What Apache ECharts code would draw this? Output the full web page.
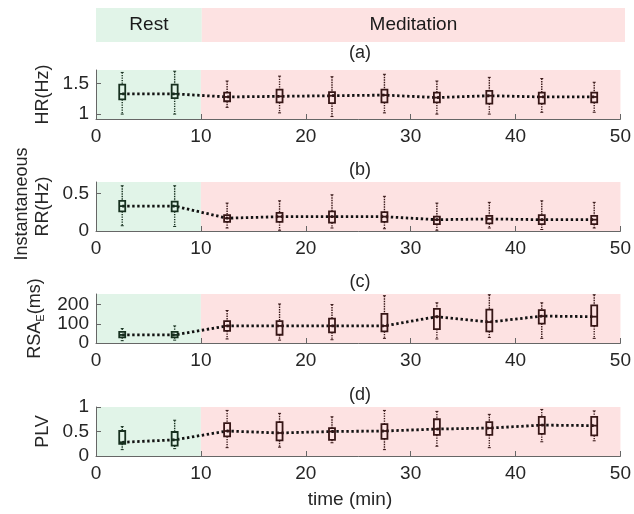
<!DOCTYPE html>
<html><head><meta charset="utf-8">
<script src="https://cdn.jsdelivr.net/npm/echarts@6/dist/echarts.min.js"></script>
<style>html,body{margin:0;padding:0;background:#fff}#c{width:634px;height:514px}</style>
</head><body><div id="c"></div>
<script>
// ---- data ----
const times = [2.5, 7.5, 12.5, 17.5, 22.5, 27.5, 32.5, 37.5, 42.5, 47.5];
const phaseNames = ['Rest', 'Meditation'];
const phaseStart = [0, 10];
const phaseEnd = [10, 50];
const xTicks = [0, 10, 20, 30, 40, 50];
const panelTags = ['(a)', '(b)', '(c)', '(d)'];
const yNames = ['HR(Hz)', 'RR(Hz)', '{n|RSA}{s|E}{n|(ms)}', 'PLV'];
const yTicks = [[1, 1.5], [0, 0.5], [0, 100, 200], [0, 0.5, 1]];
const yRange = [[0.92, 1.72], [0, 0.65], [0, 255], [0, 1]];

const hrMin = [1.00, 1.00, 1.11, 1.02, 0.96, 1.02, 1.00, 1.00, 1.03, 1.03];
const hrQ1  = [1.24, 1.26, 1.21, 1.19, 1.18, 1.19, 1.19, 1.17, 1.17, 1.19];
const hrMed = [1.33, 1.33, 1.28, 1.29, 1.30, 1.31, 1.27, 1.30, 1.28, 1.28];
const hrQ3  = [1.48, 1.48, 1.35, 1.40, 1.36, 1.40, 1.35, 1.38, 1.35, 1.35];
const hrMax = [1.68, 1.70, 1.54, 1.62, 1.61, 1.65, 1.54, 1.60, 1.58, 1.52];

const rrMin = [0.07, 0.06, 0.04, 0.01, 0.04, 0.03, 0.01, 0.04, 0.02, 0.04];
const rrQ1  = [0.26, 0.26, 0.12, 0.12, 0.11, 0.12, 0.09, 0.10, 0.09, 0.09];
const rrMed = [0.33, 0.33, 0.17, 0.19, 0.19, 0.19, 0.15, 0.16, 0.15, 0.15];
const rrQ3  = [0.40, 0.39, 0.21, 0.24, 0.26, 0.25, 0.19, 0.20, 0.21, 0.20];
const rrMax = [0.60, 0.60, 0.37, 0.40, 0.48, 0.46, 0.37, 0.38, 0.40, 0.38];

const rsaMin = [12, 15, 21, 15, 17, 24, 21, 29, 24, 24];
const rsaQ1  = [29, 29, 63, 43, 55, 60, 72, 60, 101, 89];
const rsaMed = [42, 42, 89, 89, 89, 89, 137, 109, 140, 137];
const rsaQ3  = [58, 58, 114, 114, 127, 152, 178, 174, 171, 196];
const rsaMax = [75, 89, 169, 203, 200, 246, 209, 251, 209, 251];

const plvMin = [0.13, 0.15, 0.17, 0.18, 0.27, 0.13, 0.20, 0.17, 0.29, 0.31];
const plvQ1  = [0.25, 0.21, 0.40, 0.32, 0.33, 0.35, 0.43, 0.43, 0.45, 0.42];
const plvMed = [0.28, 0.33, 0.51, 0.47, 0.50, 0.51, 0.55, 0.57, 0.63, 0.62];
const plvQ3  = [0.51, 0.49, 0.67, 0.69, 0.57, 0.65, 0.75, 0.69, 0.80, 0.80];
const plvMax = [0.60, 0.73, 0.93, 0.87, 0.80, 0.93, 0.91, 0.85, 0.95, 0.92];

const panels = [
  [hrMin, hrQ1, hrMed, hrQ3, hrMax],
  [rrMin, rrQ1, rrMed, rrQ3, rrMax],
  [rsaMin, rsaQ1, rsaMed, rsaQ3, rsaMax],
  [plvMin, plvQ1, plvMed, plvQ3, plvMax]
];

// ---- style / layout ----
const FONT = 'Liberation Sans, Arial, sans-serif';
const TXT = '#262626';
const GREEN = '#e1f4e8', PINK = '#fde2e2';
const phaseColors = [GREEN, PINK];
const boxColors = ['#17301f', '#361616'];
const gridTops = [70, 182, 294, 407];
const gridH = 49, gridL = 96, gridR = 9;
const tagY = [53, 170, 282, 395];

const chart = echarts.init(document.getElementById('c'), null, {renderer: 'canvas'});

function phaseIndex(x) {
  for (let i = 0; i < phaseStart.length; i++) if (x >= phaseStart[i] && x < phaseEnd[i]) return i;
  return phaseStart.length - 1;
}

function renderBox(params, api) {
  const x = api.value(0);
  const pMin = api.coord([x, api.value(1)]);
  const pQ1 = api.coord([x, api.value(2)]);
  const pMed = api.coord([x, api.value(3)]);
  const pQ3 = api.coord([x, api.value(4)]);
  const pMax = api.coord([x, api.value(5)]);
  const cx = pMin[0], hw = 3;
  const col = boxColors[phaseIndex(x)];
  const dotted = {stroke: col, lineWidth: 1.4, lineDash: [1.4, 1.1], fill: null};
  const solid = {stroke: col, lineWidth: 1.8, fill: null};
  return {type: 'group', children: [
    {type: 'line', shape: {x1: cx, y1: pMax[1], x2: cx, y2: pQ3[1]}, style: dotted},
    {type: 'line', shape: {x1: cx, y1: pQ1[1], x2: cx, y2: pMin[1]}, style: dotted},
    {type: 'line', shape: {x1: cx - 1.5, y1: pMax[1], x2: cx + 1.5, y2: pMax[1]}, style: {stroke: col, lineWidth: 1}},
    {type: 'line', shape: {x1: cx - 1.5, y1: pMin[1], x2: cx + 1.5, y2: pMin[1]}, style: {stroke: col, lineWidth: 1}},
    {type: 'rect', shape: {x: cx - hw, y: pQ3[1], width: 2 * hw, height: pQ1[1] - pQ3[1]}, style: solid},
    {type: 'line', shape: {x1: cx - hw, y1: pMed[1], x2: cx + hw, y2: pMed[1]}, style: solid}
  ]};
}

const grid = [], xAxis = [], yAxis = [], series = [], graphic = [];
const phaseAreas = phaseNames.map((n, i) => [
  {name: n, xAxis: phaseStart[i], itemStyle: {color: phaseColors[i]}},
  {xAxis: phaseEnd[i]}
]);

for (let p = 0; p < 4; p++) {
  grid.push({left: gridL, right: gridR, top: gridTops[p], height: gridH});
  xAxis.push({
    gridIndex: p, type: 'value', min: xTicks[0], max: xTicks[xTicks.length - 1], interval: 10,
    axisLine: {show: true, lineStyle: {color: '#666', width: 1}},
    axisTick: {show: true, inside: true, length: 5, lineStyle: {color: '#666'}},
    axisLabel: {fontSize: 19, color: TXT, fontFamily: FONT, margin: 8},
    splitLine: {show: false}
  });
  yAxis.push({
    gridIndex: p, type: 'value', min: yRange[p][0], max: yRange[p][1],
    name: yNames[p], nameLocation: 'middle', nameGap: 44,
    nameTextStyle: {fontSize: 18, color: TXT, fontFamily: FONT,
      rich: {n: {fontSize: 18, color: TXT, fontFamily: FONT, lineHeight: 22},
             s: {fontSize: 11, color: TXT, fontFamily: FONT, lineHeight: 12, verticalAlign: 'bottom'}}},
    axisLine: {show: true, lineStyle: {color: '#666', width: 1}},
    axisTick: {show: true, inside: true, length: 5, lineStyle: {color: '#666'}, customValues: yTicks[p]},
    axisLabel: {fontSize: 19, color: TXT, fontFamily: FONT, margin: 7, customValues: yTicks[p]},
    splitLine: {show: false}
  });
  const d = panels[p];
  series.push({
    type: 'line', xAxisIndex: p, yAxisIndex: p, z: 2,
    data: times.map((t, i) => [t, d[2][i]]),
    showSymbol: false, symbol: 'none',
    lineStyle: {color: '#111', width: 2.8, type: [2.4, 2.6]},
    markArea: {silent: true, z: 0, data: phaseAreas.map(a => [Object.assign({}, a[0], {name: ''}), a[1]])},
    animation: false
  });
  series.push({
    type: 'custom', xAxisIndex: p, yAxisIndex: p, z: 3,
    renderItem: renderBox,
    encode: {x: 0, y: [1, 2, 3, 4, 5]},
    data: times.map((t, i) => [t, d[0][i], d[1][i], d[2][i], d[3][i], d[4][i]]),
    animation: false
  });
  graphic.push({type: 'text', x: 360, y: tagY[p],
    style: {text: panelTags[p], fontSize: 18, fill: TXT, fontFamily: FONT, align: 'center', verticalAlign: 'middle'}});
}

// top banner
grid.push({left: gridL, right: gridR, top: 8, height: 34});
xAxis.push({gridIndex: 4, type: 'value', min: 0, max: 50, show: false});
yAxis.push({gridIndex: 4, type: 'value', min: 0, max: 1, show: false});
series.push({
  type: 'line', xAxisIndex: 4, yAxisIndex: 4, data: [[0, 0.5]], symbol: 'none',
  lineStyle: {opacity: 0}, silent: true, animation: false,
  markArea: {silent: true, data: phaseAreas,
    label: {show: true, position: 'inside', fontSize: 19, color: '#1a1a1a', fontFamily: FONT}}
});

graphic.push({type: 'text', x: 350, y: 500,
  style: {text: 'time (min)', fontSize: 19, fill: TXT, fontFamily: FONT, align: 'center', verticalAlign: 'middle'}});
graphic.push({type: 'text', x: 22, y: 204, rotation: Math.PI / 2,
  style: {text: 'Instantaneous', fontSize: 18, fill: TXT, fontFamily: FONT, align: 'center', verticalAlign: 'middle'}});

chart.setOption({animation: false, grid, xAxis, yAxis, series, graphic});
</script></body></html>
